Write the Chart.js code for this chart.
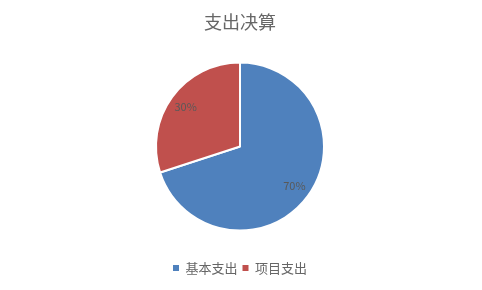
<!DOCTYPE html>
<html>
<head>
<meta charset="utf-8">
<script src="https://cdn.jsdelivr.net/npm/chart.js@4/dist/chart.umd.min.js"></script>
<style>
  html, body { margin: 0; padding: 0; background: #fff; }
  #wrap { width: 482px; height: 290px; }
</style>
</head>
<body>
<div id="wrap"><canvas id="myChart" width="482" height="290"></canvas></div>
<script>
// data
let categories = ["基本支出", "项目支出"];
let values = [70, 30];
let colors = ["#4F81BD", "#C0504D"];
let titleText = "支出决算";

// percent labels drawn inside each slice
let pctLabels = {
  id: "pctLabels",
  afterDatasetsDraw(chart) {
    let ctx = chart.ctx;
    let meta = chart.getDatasetMeta(0);
    let total = values.reduce((a, b) => a + b, 0);
    ctx.save();
    ctx.font = "11px 'Noto Sans CJK SC', 'DejaVu Sans', sans-serif";
    ctx.fillStyle = "#595959";
    ctx.textAlign = "center";
    ctx.textBaseline = "middle";
    meta.data.forEach((arc, i) => {
      let p = arc.getProps(["x", "y", "startAngle", "endAngle", "outerRadius"], true);
      let mid = (p.startAngle + p.endAngle) / 2;
      let r = p.outerRadius * 0.8;
      let txt = Math.round(values[i] / total * 100) + "%";
      ctx.fillText(txt, p.x + Math.cos(mid) * r, p.y + Math.sin(mid) * r);
    });
    ctx.restore();
  }
};

let ctx = document.getElementById("myChart").getContext("2d");
let myChart = new Chart(ctx, {
  type: "pie",
  data: {
    labels: categories,
    datasets: [{
      data: values,
      backgroundColor: colors,
      borderColor: "#ffffff",
      borderWidth: 2,
      radius: 84,
    }],
  },
  options: {
    responsive: false,
    animation: false,
    layout: { padding: { left: 0, right: 2, top: 0, bottom: 5.5 } },
    plugins: {
      title: {
        display: true,
        text: titleText,
        color: "#666666",
        font: { family: "'Noto Sans CJK SC', sans-serif", size: 18, weight: "normal" },
        padding: { top: 11, bottom: 4 },
      },
      legend: {
        position: "bottom",
        labels: {
          color: "#666666",
          font: { family: "'Noto Sans CJK SC', sans-serif", size: 13 },
          boxWidth: 6,
          boxHeight: 6,
          padding: 5,
          generateLabels(chart) {
            let items = Chart.controllers.pie.overrides.plugins.legend.labels.generateLabels(chart);
            items.forEach(it => { it.lineWidth = 0; });
            return items;
          },
        },
      },
      tooltip: { enabled: false },
    },
  },
  plugins: [pctLabels],
});
</script>
</body>
</html>
